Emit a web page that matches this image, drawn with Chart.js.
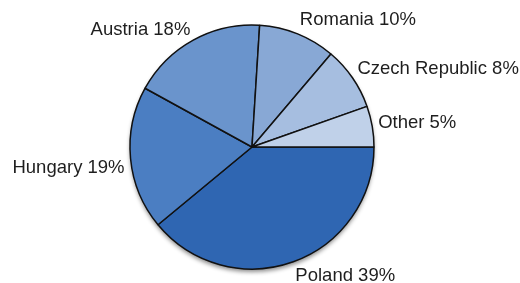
<!DOCTYPE html>
<html>
<head>
<meta charset="utf-8">
<script src="https://cdn.jsdelivr.net/npm/chart.js@4"></script>
<style>
  html, body { margin: 0; padding: 0; background: #fff; }
  #wrap { width: 520px; height: 283px; }
</style>
</head>
<body>
<div id="wrap"><canvas id="share-chart" width="520" height="283"></canvas></div>
<script>
// clockwise from 3 o'clock
const countries = ['Poland', 'Hungary', 'Austria', 'Romania', 'Czech Republic', 'Other'];
const shares = [39, 19, 18, 10.2, 8.4, 5.4];
const sliceColors = ['#2f66b2', '#4b7ec2', '#6a94cc', '#88a8d5', '#a6bee0', '#c0d1e9'];

const labelFont = '18.5px "Liberation Sans", Arial, sans-serif';
// small vertical nudges for the outside labels (px)
const labelNudgeY = [0, 8, 3, 0, 0, -1];

const pieShadow = {
  id: 'pieShadow',
  beforeDatasetsDraw(chart) {
    const arc = chart.getDatasetMeta(0).data[0];
    if (!arc) return;
    const { x, y, outerRadius } = arc.getProps(['x', 'y', 'outerRadius'], true);
    const ctx = chart.ctx;
    ctx.save();
    ctx.shadowColor = 'rgba(0, 0, 0, 0.45)';
    ctx.shadowBlur = 4;
    ctx.shadowOffsetY = 3;
    ctx.beginPath();
    ctx.arc(x, y, outerRadius, 0, Math.PI * 2);
    ctx.fillStyle = '#2f66b2';
    ctx.fill();
    ctx.restore();
  },
};

const outsideLabels = {
  id: 'outsideLabels',
  afterDatasetsDraw(chart) {
    const ctx = chart.ctx;
    const meta = chart.getDatasetMeta(0);
    const total = shares.reduce((a, b) => a + b, 0);
    ctx.save();
    ctx.font = labelFont;
    ctx.fillStyle = '#1e1e1e';
    ctx.textBaseline = 'middle';
    meta.data.forEach((arc, i) => {
      const { x, y, startAngle, endAngle, outerRadius } = arc.getProps(
        ['x', 'y', 'startAngle', 'endAngle', 'outerRadius'],
        true
      );
      const mid = (startAngle + endAngle) / 2;
      const cos = Math.cos(mid);
      const sin = Math.sin(mid);
      const ax = x + (outerRadius + 6) * cos;
      const ay = y + (outerRadius + 6) * sin;
      const text = countries[i] + ' ' + Math.round((shares[i] / total) * 100) + '%';
      ctx.textAlign = cos >= 0 ? 'left' : 'right';
      ctx.fillText(text, ax, ay + sin * 9 + labelNudgeY[i]);
    });
    ctx.restore();
  },
};

new Chart(document.getElementById('share-chart'), {
  type: 'pie',
  data: {
    labels: countries,
    datasets: [
      {
        data: shares,
        backgroundColor: sliceColors,
        borderColor: '#111111',
        borderWidth: 1.5,
        radius: 122,
      },
    ],
  },
  options: {
    responsive: false,
    animation: false,
    rotation: 90,
    layout: { padding: { left: 0, right: 16, top: 25, bottom: 14 } },
    plugins: {
      legend: { display: false },
      tooltip: { enabled: false },
    },
  },
  plugins: [pieShadow, outsideLabels],
});
</script>
</body>
</html>
